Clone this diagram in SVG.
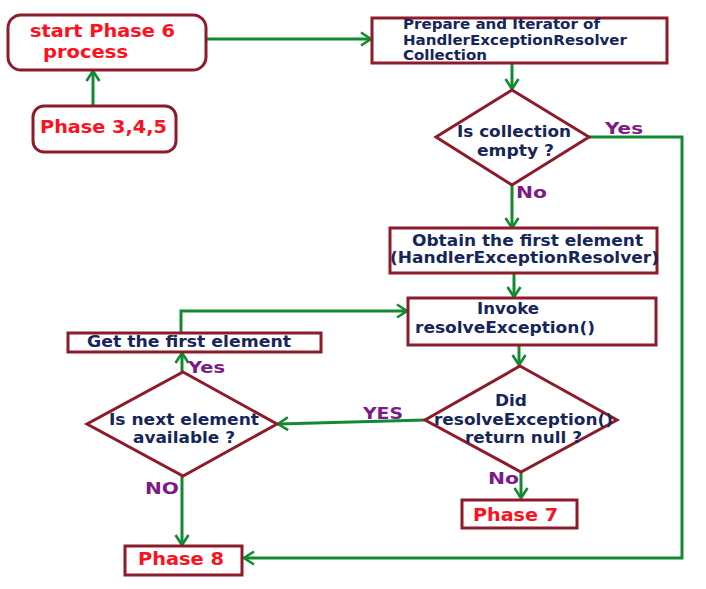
<svg xmlns="http://www.w3.org/2000/svg" width="706" height="589" viewBox="0 0 706 589">
<style>
.box{fill:#fff;stroke:#8e1b2b;stroke-width:3}
.ln{fill:none;stroke:#128a32;stroke-width:3}
text{font-family:"DejaVu Sans","Liberation Sans",sans-serif;font-weight:bold}
.red{fill:#ff1020;font-size:17px}
.nav{fill:#16255a;font-size:15px}
.sm{font-size:13.5px}
.lbl{fill:#7d1a86;font-size:16px}
</style>
<defs>
<marker id="ah" markerUnits="userSpaceOnUse" markerWidth="16" markerHeight="16" refX="12" refY="8" orient="auto">
<path d="M2,1.5 L12,8 L2,14.5" fill="none" stroke="#128a32" stroke-width="2.6"/>
</marker>
</defs>
<rect width="706" height="589" fill="#fff"/>
<g id="connectors">
<path class="ln" d="M93,106 V71" marker-end="url(#ah)"/>
<path class="ln" d="M207,39 H371" marker-end="url(#ah)"/>
<path class="ln" d="M512,64 V89" marker-end="url(#ah)"/>
<path class="ln" d="M589,137 H682 V558 H244" marker-end="url(#ah)"/>
<path class="ln" d="M512,185 V228" marker-end="url(#ah)"/>
<path class="ln" d="M514,274 V297" marker-end="url(#ah)"/>
<path class="ln" d="M519,346 V365" marker-end="url(#ah)"/>
<path class="ln" d="M425,420 L278,424" marker-end="url(#ah)"/>
<path class="ln" d="M521,472 V498" marker-end="url(#ah)"/>
<path class="ln" d="M182,372 V353" marker-end="url(#ah)"/>
<path class="ln" d="M181,333 V311 H407" marker-end="url(#ah)"/>
<path class="ln" d="M182,476 V545" marker-end="url(#ah)"/>
<text class="lbl" x="605" y="134" textLength="38" lengthAdjust="spacingAndGlyphs">Yes</text>
<text class="lbl" x="516" y="198" textLength="31" lengthAdjust="spacingAndGlyphs">No</text>
<text class="lbl" x="363" y="419" textLength="40" lengthAdjust="spacingAndGlyphs">YES</text>
<text class="lbl" x="188" y="373" textLength="37" lengthAdjust="spacingAndGlyphs">Yes</text>
<text class="lbl" x="145" y="494" textLength="34" lengthAdjust="spacingAndGlyphs">NO</text>
<text class="lbl" x="488" y="484" textLength="31" lengthAdjust="spacingAndGlyphs">No</text>
</g>
<g id="start">
<rect class="box" x="8" y="15" width="198" height="55" rx="13"/>
<text class="red" x="30" y="37" textLength="145" lengthAdjust="spacingAndGlyphs">start Phase 6</text>
<text class="red" x="43" y="58" textLength="85" lengthAdjust="spacingAndGlyphs">process</text>
</g>
<g id="phase345">
<rect class="box" x="33" y="106" width="143" height="46" rx="11"/>
<text class="red" x="40" y="133" textLength="127" lengthAdjust="spacingAndGlyphs">Phase 3,4,5</text>
</g>
<g id="prepare">
<rect class="box" x="372" y="18" width="295" height="45"/>
<text class="nav sm" x="403" y="29" textLength="197" lengthAdjust="spacingAndGlyphs">Prepare and Iterator of</text>
<text class="nav sm" x="403" y="45" textLength="224" lengthAdjust="spacingAndGlyphs">HandlerExceptionResolver</text>
<text class="nav sm" x="403" y="60" textLength="84" lengthAdjust="spacingAndGlyphs">Collection</text>
</g>
<g id="empty">
<polygon class="box" points="512,90 589,137 512,185 436,137"/>
<text class="nav" x="457" y="137" textLength="114" lengthAdjust="spacingAndGlyphs">Is collection</text>
<text class="nav" x="477" y="156" textLength="77" lengthAdjust="spacingAndGlyphs">empty ?</text>
</g>
<g id="obtain">
<rect class="box" x="390" y="228" width="267" height="45"/>
<text class="nav" x="412" y="246" textLength="231" lengthAdjust="spacingAndGlyphs">Obtain the first element</text>
<text class="nav" x="390" y="263" textLength="269" lengthAdjust="spacingAndGlyphs">(HandlerExceptionResolver)</text>
</g>
<g id="invoke">
<rect class="box" x="408" y="298" width="248" height="47"/>
<text class="nav" x="477" y="314" textLength="62" lengthAdjust="spacingAndGlyphs">Invoke</text>
<text class="nav" x="415" y="333" textLength="180" lengthAdjust="spacingAndGlyphs">resolveException()</text>
</g>
<g id="didnull">
<polygon class="box" points="520,366 617,420 521,472 425,420"/>
<text class="nav" x="495" y="406" textLength="32" lengthAdjust="spacingAndGlyphs">Did</text>
<text class="nav" x="434" y="425" textLength="179" lengthAdjust="spacingAndGlyphs">resolveException()</text>
<text class="nav" x="465" y="443" textLength="117" lengthAdjust="spacingAndGlyphs">return null ?</text>
</g>
<g id="phase7">
<rect class="box" x="462" y="500" width="115" height="28"/>
<text class="red" x="473" y="521" textLength="85" lengthAdjust="spacingAndGlyphs">Phase 7</text>
</g>
<g id="getfirst">
<rect class="box" x="68" y="333" width="253" height="19"/>
<text class="nav" x="87" y="347" textLength="204" lengthAdjust="spacingAndGlyphs">Get the first element</text>
</g>
<g id="nextavail">
<polygon class="box" points="183,372 277,424 183,476 87,424"/>
<text class="nav" x="109" y="425" textLength="150" lengthAdjust="spacingAndGlyphs">Is next element</text>
<text class="nav" x="133" y="443" textLength="102" lengthAdjust="spacingAndGlyphs">available ?</text>
</g>
<g id="phase8">
<rect class="box" x="125" y="546" width="117" height="29"/>
<text class="red" x="138" y="565" textLength="86" lengthAdjust="spacingAndGlyphs">Phase 8</text>
</g>
</svg>
